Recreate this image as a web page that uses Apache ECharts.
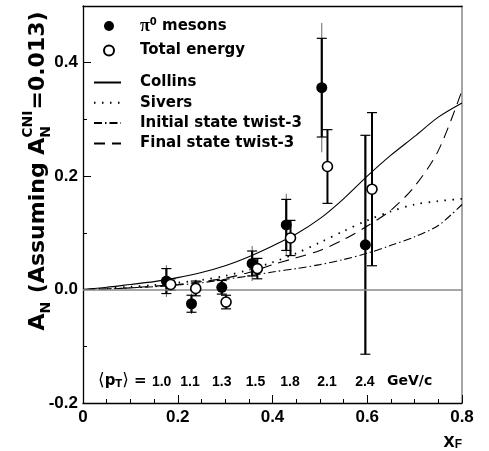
<!DOCTYPE html>
<html><head><meta charset="utf-8">
<script src="https://cdn.jsdelivr.net/npm/echarts@6/dist/echarts.min.js"></script>
<style>html,body{margin:0;padding:0;background:#fff}#c{width:489px;height:451px}</style>
</head><body><div id="c"></div>
<script>
// ---------- data ----------
const curveX   = [0,0.05,0.1,0.15,0.2,0.25,0.3,0.35,0.4,0.45,0.5,0.55,0.6,0.65,0.7,0.75,0.8];
const collinsY = [0,0.004,0.009,0.014,0.021,0.030,0.042,0.058,0.077,0.098,0.125,0.160,0.200,0.237,0.270,0.304,0.329];
const siversY  = [0,0.002,0.005,0.008,0.012,0.017,0.024,0.035,0.048,0.064,0.083,0.103,0.122,0.138,0.150,0.156,0.160];
const initialY = [0,0.001,0.003,0.005,0.008,0.012,0.018,0.024,0.031,0.037,0.044,0.053,0.064,0.078,0.093,0.113,0.150];
const finalY   = [0,0.001,0.003,0.006,0.009,0.014,0.020,0.030,0.044,0.056,0.069,0.088,0.112,0.140,0.182,0.245,0.351];

const pionX    = [0.176,0.229,0.293,0.357,0.429,0.504,0.596];
const pionY    = [0.015,-0.025,0.004,0.046,0.114,0.356,0.079];
const pionStat = [0.022,0.015,0.012,0.022,0.045,0.087,0.193];
const pionSys  = [0.028,0.018,0.014,0.031,0.055,0.114,0.193];

const totX     = [0.185,0.238,0.302,0.368,0.438,0.516,0.610];
const totY     = [0.009,0.002,-0.022,0.037,0.091,0.217,0.177];
const totErr   = [0.010,0.013,0.012,0.018,0.031,0.065,0.135];

const ptX      = [0.166,0.226,0.293,0.364,0.437,0.515,0.595];
const ptLabels = ['1.0','1.1','1.3','1.5','1.8','2.1','2.4'];
const ptRowY   = -0.164;

// ---------- helpers ----------
const F = '"Liberation Sans", Arial, Helvetica, sans-serif';
const D = '"DejaVu Sans", sans-serif';
const ctx = document.createElement('canvas').getContext('2d');
function tw(t, font){ ctx.font = font; return ctx.measureText(t).width; }
const zip = (xs, ys) => xs.map((x,i)=>[x, ys[i]]);

function errRender(thick, capW){
  return function(params, api){
    const x = api.value(0), y = api.value(1), e = api.value(2), s = api.value(3);
    const p0 = api.coord([x, y+e]), p1 = api.coord([x, y-e]);
    const ch = [];
    if (s > e) {
      const q0 = api.coord([x, y+s]), q1 = api.coord([x, y-s]);
      ch.push({type:'line', shape:{x1:q0[0],y1:q0[1],x2:q1[0],y2:q1[1]}, style:{stroke:'#666', lineWidth:1}});
    }
    ch.push({type:'line', shape:{x1:p0[0],y1:p0[1],x2:p1[0],y2:p1[1]}, style:{stroke:'#000', lineWidth:thick}});
    ch.push({type:'line', shape:{x1:p0[0]-capW/2,y1:p0[1],x2:p0[0]+capW/2,y2:p0[1]}, style:{stroke:'#000', lineWidth:1.2}});
    ch.push({type:'line', shape:{x1:p1[0]-capW/2,y1:p1[1],x2:p1[0]+capW/2,y2:p1[1]}, style:{stroke:'#000', lineWidth:1.2}});
    return {type:'group', children:ch};
  };
}

function yTitle(){
  const big = 'bold 22px ' + D, small = 'bold 14px ' + D;
  let x = 0; const ch = [];
  function add(t, font, dy){ ch.push({type:'text', x:x, y:dy, style:{text:t, font:font, fill:'#000', verticalAlign:'middle', align:'left'}}); return tw(t, font); }
  x += add('A', big, 0);
  x += add('N', small, 8) + 1;
  x += add(' (Assuming ', big, 0);
  x += add('A', big, 0);
  const w1 = add('CNI', small, -10); const w2 = add('N', small, 8);
  x += Math.max(w1, w2) + 1;
  x += add('=0.013)', big, 0);
  return {ch, len:x};
}
const yt = yTitle();

const chart = echarts.init(document.getElementById('c'), null, {renderer:'canvas'});
const lineCommon = {type:'line', symbol:'none', smooth:0.3, silent:true, xAxisIndex:0, yAxisIndex:0, z:3, color:'#000'};
const labelFont = {fontFamily:F, fontWeight:'bold', fontSize:17, color:'#000'};
const legFont = {fontFamily:D, fontWeight:'bold', fontSize:15, color:'#000'};

chart.setOption({
  animation:false,
  grid:{left:83, right:27, top:6, bottom:48, containLabel:false},
  xAxis:[{
    type:'value', min:0, max:0.8, interval:0.2,
    axisLine:{onZero:false, lineStyle:{color:'#000', width:1.3}},
    axisTick:{inside:true, length:8, lineStyle:{color:'#000'}},
    minorTick:{show:true, splitNumber:4, length:4, lineStyle:{color:'#000'}},
    splitLine:{show:false},
    axisLabel:Object.assign({margin:6, formatter:v => v===0 ? '0' : v.toFixed(1)}, labelFont)
  },{
    type:'value', position:'top', min:0, max:0.8,
    axisLine:{show:true, onZero:false, lineStyle:{color:'#000', width:1.3}},
    axisTick:{show:false}, axisLabel:{show:false}, splitLine:{show:false}
  }],
  yAxis:[{
    type:'value', min:-0.2, max:0.5, interval:0.2,
    axisLine:{show:true, onZero:false, lineStyle:{color:'#000', width:1.3}},
    axisTick:{inside:true, length:8, lineStyle:{color:'#000'}},
    minorTick:{show:true, splitNumber:2, length:4, lineStyle:{color:'#000'}},
    splitLine:{show:false},
    axisLabel:Object.assign({margin:5, showMaxLabel:false, formatter:v => v.toFixed(1)}, labelFont)
  },{
    type:'value', position:'right', min:-0.2, max:0.5,
    axisLine:{show:true, onZero:false, lineStyle:{color:'#888', width:1.5}},
    axisTick:{show:false}, axisLabel:{show:false}, splitLine:{show:false}
  }],
  legend:[{
    data:['pi0','total'], orient:'vertical', left:98, top:12, itemWidth:10, itemHeight:10, itemGap:8,
    selectedMode:false,
    formatter: n => n==='pi0' ? '{sp|}{pi|π}{sup|0}{t| mesons}' : '{sp|}{t|Total energy}',
    textStyle:Object.assign({}, legFont, {
      rich:{sp:{width:21}, t:legFont,
            pi:{fontFamily:'"Liberation Serif", serif', fontSize:18, color:'#000'},
            sup:{fontFamily:D, fontWeight:'bold', fontSize:10, verticalAlign:'top', color:'#000'}}})
  },{
    data:['Collins','Sivers','Initial state twist-3','Final state twist-3'], orient:'vertical', left:88, top:70,
    itemWidth:27, itemHeight:10, itemGap:5.3, selectedMode:false,
    itemStyle:{opacity:0},
    formatter: n => '{sp|}{t|' + n + '}',
    textStyle:Object.assign({}, legFont, {rich:{sp:{width:14}, t:legFont}})
  }],
  series:[
    Object.assign({}, lineCommon, {name:'Collins', data:zip(curveX, collinsY), lineStyle:{color:'#000', width:1.1, type:'solid'},
      markLine:{silent:true, symbol:'none', label:{show:false}, data:[{yAxis:0}], lineStyle:{color:'#888', width:1.6, type:'solid'}}}),
    Object.assign({}, lineCommon, {name:'Sivers', data:zip(curveX, siversY), lineStyle:{color:'#000', width:1.8, type:[1.5,6.5]}}),
    Object.assign({}, lineCommon, {name:'Initial state twist-3', data:zip(curveX, initialY), lineStyle:{color:'#000', width:1.1, type:[8,3,1.5,3]}}),
    Object.assign({}, lineCommon, {name:'Final state twist-3', data:zip(curveX, finalY), lineStyle:{color:'#000', width:1.1, type:[11,7]}}),
    {type:'custom', silent:true, z:4, renderItem:errRender(2.2, 10),
      data:pionX.map((x,i)=>[x, pionY[i], pionStat[i], pionSys[i]]), encode:{x:0, y:1}},
    {type:'custom', silent:true, z:4, renderItem:errRender(2, 10),
      data:totX.map((x,i)=>[x, totY[i], totErr[i], 0]), encode:{x:0, y:1}},
    {name:'pi0', type:'scatter', z:5, silent:true, symbol:'circle', symbolSize:11,
      itemStyle:{color:'#000', opacity:1}, data:zip(pionX, pionY)},
    {name:'total', type:'scatter', z:6, silent:true, symbol:'circle', symbolSize:10,
      itemStyle:{color:'#fff', borderColor:'#000', borderWidth:1.6, opacity:1}, data:zip(totX, totY)},
    {type:'custom', silent:true, z:5,
      data:ptX.map((x,i)=>[x, ptRowY, i]), encode:{x:0, y:1},
      renderItem:(params, api) => {
        const p = api.coord([api.value(0), api.value(1)]);
        return {type:'text', x:p[0], y:p[1], style:{text:ptLabels[api.value(2)], font:'bold 14px ' + F,
          fill:'#000', align:'center', verticalAlign:'middle'}};
      }}
  ],
  graphic:[
    {type:'group', x:38, y:171 + yt.len/2, rotation:Math.PI/2, children:yt.ch},
    {type:'text', x:98, y:381, style:{text:'{b|⟨}{t|p}{s|T}{b|⟩}{t| =}', verticalAlign:'middle',
      rich:{b:{fontFamily:D, fontSize:17, fill:'#000'},
            t:{fontFamily:D, fontWeight:'bold', fontSize:15, fill:'#000'},
            s:{fontFamily:D, fontWeight:'bold', fontSize:10, fill:'#000', verticalAlign:'bottom'}}}},
    {type:'text', x:387, y:381, style:{text:'GeV/c', font:'bold 14px ' + D, fill:'#000', verticalAlign:'middle'}},
    {type:'text', x:462, y:441, style:{text:'{m|x}{s|F}', align:'right', verticalAlign:'middle',
      rich:{m:{fontFamily:F, fontWeight:'bold', fontSize:20, fill:'#000'},
            s:{fontFamily:F, fontWeight:'bold', fontSize:12, fill:'#000', verticalAlign:'bottom'}}}}
  ]
});
</script>
</body></html>
